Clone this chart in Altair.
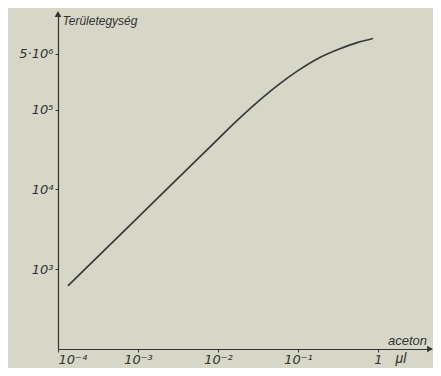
import altair as alt
import pandas as pd

# data (log-log)
vol = [1.33e-4, 1e-3, 1e-2, 1.78e-2, 3.16e-2, 5.62e-2, 0.1, 0.178, 0.316, 0.562, 0.866]
area = [620, 4470, 4.27e4, 7.48e4, 1.26e5, 2.03e5, 3.08e5, 4.38e5, 5.66e5, 6.97e5, 7.8e5]

x_ticks = [0.0001, 0.001, 0.01, 0.1, 1]
x_labels = ["10⁻⁴", "10⁻³", "10⁻²", "10⁻¹", "1"]
y_ticks = [1000, 10000, 100000, 500000]
y_labels = ["10³", "10⁴", "10⁵", "5·10⁶"]
x_domain = [0.0001, 4.47]
y_domain = [100, 1.58e6]

def label_expr(vals, labs):
    parts = [f"datum.value == {v} ? '{l}'" for v, l in zip(vals, labs)]
    return " : ".join(parts) + " : ''"

df = pd.DataFrame({"vol": vol, "area": area})

LFONT = "DejaVu Sans"
TFONT = "Liberation Sans"
INK = "#333333"

xs = alt.Scale(type="log", domain=x_domain, nice=False)
ys = alt.Scale(type="log", domain=y_domain, nice=False)

line = alt.Chart(df).mark_line(color="#3a3a3a", strokeWidth=1.7, interpolate="monotone").encode(
    x=alt.X("vol:Q", scale=xs,
            axis=alt.Axis(values=x_ticks, labelExpr=label_expr(x_ticks, x_labels),
                          title="aceton", titleX=349, titleY=-9, titleAlign="center",
                          titleBaseline="middle", titleFontWeight="normal",
                          titleFontStyle="italic", titleFontSize=13, titlePadding=0,
                          labelPadding=1)),
    y=alt.Y("area:Q", scale=ys,
            axis=alt.Axis(values=y_ticks, labelExpr=label_expr(y_ticks, y_labels),
                          title="Területegység", titleAngle=0, titleX=4, titleY=6,
                          titleAlign="left", titleBaseline="middle",
                          titleFontWeight="normal", titleFontStyle="italic",
                          titleFontSize=12, labelPadding=2)),
)

arrow_y = alt.Chart(pd.DataFrame({"vol": [x_domain[0]], "area": [y_domain[1]]})).mark_point(
    shape="triangle-up", size=45, filled=True, color=INK, opacity=1).encode(
    x=alt.X("vol:Q", scale=xs), y=alt.Y("area:Q", scale=ys))

arrow_x = alt.Chart(pd.DataFrame({"vol": [x_domain[1]], "area": [y_domain[0]]})).mark_point(
    shape="triangle-right", size=45, filled=True, color=INK, opacity=1).encode(
    x=alt.X("vol:Q", scale=xs), y=alt.Y("area:Q", scale=ys))

unit = alt.Chart(pd.DataFrame({"vol": [1.94], "area": [y_domain[0]], "t": ["μl"]})).mark_text(
    font=TFONT, fontStyle="italic", fontSize=14, color=INK, dy=10, baseline="middle").encode(
    x=alt.X("vol:Q", scale=xs), y=alt.Y("area:Q", scale=ys), text="t:N")

chart = alt.layer(line, arrow_y, arrow_x, unit).properties(
    width=372, height=335,
    autosize=alt.AutoSizeParams(type="none"),
    padding={"left": 50, "top": 6, "right": 3, "bottom": 19},
    background="#d6d7c7",
).configure_view(stroke=None).configure_axis(
    grid=False, domainColor=INK, domainWidth=1.2, tickColor=INK, tickSize=3,
    labelFont=LFONT, labelFontStyle="italic", labelFontSize=13, labelColor=INK,
    titleFont=TFONT, titleColor=INK,
)

chart.save("out.html", embed_options={"renderer": "svg", "actions": False})
